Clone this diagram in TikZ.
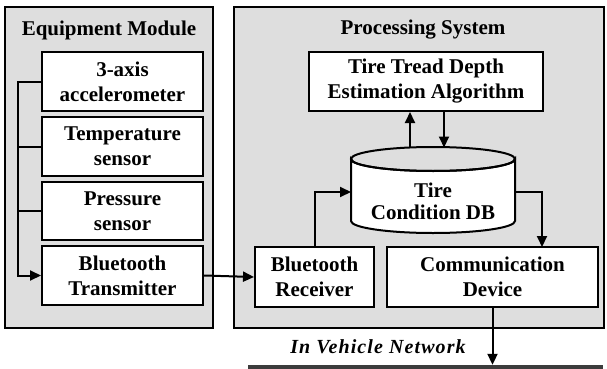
\documentclass[tikz,border=0pt]{standalone}
\usepackage{fontspec}
\setmainfont{Liberation Serif}
\usetikzlibrary{arrows.meta}
\definecolor{panelgray}{HTML}{DEDEDE}
\definecolor{bargray}{HTML}{3C3C3C}
\begin{document}
\begin{tikzpicture}[x=1pt,y=-1pt,
  outerbox/.style={draw=black, fill=panelgray, line width=2pt, inner sep=0pt},
  innerbox/.style={draw=black, fill=white, line width=2pt, inner sep=0pt, align=center,
    font=\fontsize{21}{25}\selectfont\bfseries},
  titletext/.style={font=\fontsize{21}{25}\selectfont\bfseries, inner sep=0pt},
  conn/.style={line width=2pt},
  arr/.style={line width=2pt, -{Triangle[length=11pt,width=10pt]}}]
\useasboundingbox (0,0) rectangle (607,369);
% panels
\node[outerbox, minimum width=208, minimum height=321] (em) at (109,167.5) {};
\node[outerbox, minimum width=370, minimum height=321] (ps) at (419,167.5) {};
\node[titletext] (emt) at (109,30) {Equipment Module};
\node[titletext] (pst) at (423,30) {Processing System};
% equipment module boxes
\node[innerbox, minimum width=161, minimum height=59] (acc) at (122.5,81.5) {3-axis\\accelerometer};
\node[innerbox, minimum width=161, minimum height=59] (temp) at (122.5,146.5) {Temperature\\sensor};
\node[innerbox, minimum width=161, minimum height=58] (press) at (122.5,211) {Pressure\\sensor};
\node[innerbox, minimum width=161, minimum height=59] (bt) at (122.5,275.5) {Bluetooth\\Transmitter};
% processing boxes
\node[innerbox, minimum width=234, minimum height=59] (alg) at (426,81.5) {Tire Tread Depth\\Estimation Algorithm};
\node[innerbox, minimum width=119, minimum height=60] (rx) at (314.5,277) {Bluetooth\\Receiver};
\node[innerbox, minimum width=211, minimum height=60] (comm) at (492.5,277) {Communication\\Device};
% cylinder (database)
\draw[line width=2pt, fill=white] (351,159) -- (351,221)
  arc[start angle=180, end angle=0, x radius=82, y radius=12] -- (515,159)
  arc[start angle=0, end angle=180, x radius=82, y radius=12] -- cycle;
\draw[line width=2pt] (433,159) ellipse[x radius=82, y radius=12];
\node[font=\fontsize{21}{22}\selectfont\bfseries, align=center, inner sep=0pt] (db) at (433,201) {Tire\\Condition DB};
\coordinate (dbL) at (351,192);
\coordinate (dbR) at (515,192);
\coordinate (dbT1) at (410,147.5);
\coordinate (dbT2) at (444,147.5);
\coordinate (commIn) at (542,247);
% network bar
\node[fill=bargray, draw=none, minimum width=355, minimum height=5, inner sep=0pt] (net) at (425.5,367.5) {};
\node[font=\fontsize{20}{22}\selectfont\bfseries\itshape\addfontfeature{LetterSpace=5.5}, inner sep=0pt] (netl) at (378,347) {In Vehicle Network};
% connectors
\draw[arr] (acc.west) -- ++(-23,0) coordinate (bustop) |- (bt.west);
\draw[conn] (temp.west) -- (temp.west -| bustop);
\draw[conn] (press.west) -- (press.west -| bustop);
\draw[arr] (bt.east) -- (rx.west);
\draw[arr] (rx.north) |- (dbL);
\draw[arr] (dbR) -| (commIn);
\draw[arr] (dbT1) -- (dbT1 |- alg.south);
\draw[arr] (dbT2 |- alg.south) -- (dbT2);
\draw[arr] (comm.south) -- (comm.south |- net.north);
\end{tikzpicture}
\end{document}
